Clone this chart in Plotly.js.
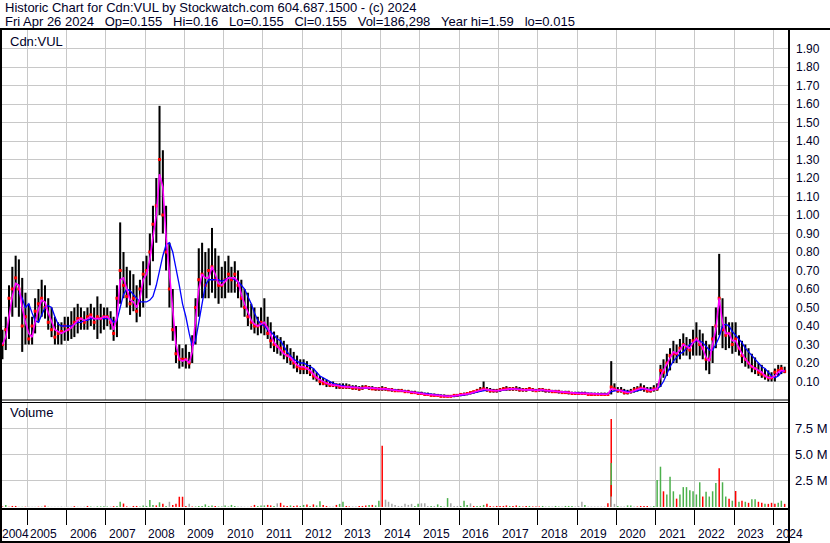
<!DOCTYPE html>
<html><head><meta charset="utf-8">
<script src="https://cdn.plot.ly/plotly-3.0.1.min.js"></script>
<style>body{margin:0;background:#fff}#chart{width:830px;height:543px}</style>
</head><body><div id="chart"></div>
<script>
// Monthly readings, May 2004 .. Apr 2024
const firstYear = 2004, firstMonth = 5;
const high = [
0.38,0.45,0.62,0.72,0.78,0.76,0.66,0.58,
0.52,0.45,0.55,0.60,0.65,0.62,0.55,0.50,0.45,0.42,0.42,0.45,
0.45,0.48,0.50,0.52,0.50,0.48,0.50,0.52,0.50,0.56,0.52,0.50,
0.50,0.48,0.45,0.62,0.96,0.80,0.72,0.70,0.68,0.62,0.65,0.75,
0.78,0.90,1.05,1.20,1.59,1.35,1.05,0.85,0.60,0.40,0.30,0.28,
0.30,0.26,0.35,0.55,0.82,0.85,0.80,0.82,0.93,0.82,0.78,0.72,
0.75,0.78,0.72,0.75,0.70,0.65,0.60,0.58,0.52,0.50,0.45,0.50,
0.55,0.45,0.42,0.37,0.35,0.34,0.32,0.30,0.28,0.26,0.24,0.22,
0.22,0.21,0.19,0.17,0.15,0.13,0.12,0.11,0.10,0.10,0.09,0.09,
0.09,0.09,0.085,0.08,0.08,0.075,0.08,0.08,0.075,0.075,0.07,0.07,
0.075,0.07,0.065,0.065,0.06,0.06,0.06,0.055,0.055,0.05,0.05,0.045,
0.045,0.04,0.04,0.035,0.035,0.03,0.03,0.03,0.025,0.025,0.03,0.03,
0.035,0.04,0.04,0.045,0.05,0.06,0.07,0.10,0.07,0.065,0.06,0.06,
0.065,0.07,0.075,0.07,0.07,0.075,0.07,0.065,0.065,0.07,0.065,0.06,
0.065,0.065,0.06,0.06,0.055,0.055,0.055,0.05,0.05,0.05,0.045,0.045,
0.045,0.045,0.045,0.04,0.04,0.04,0.04,0.04,0.04,0.04,0.21,0.09,
0.07,0.07,0.06,0.055,0.06,0.07,0.075,0.09,0.08,0.07,0.07,0.08,
0.09,0.19,0.22,0.25,0.28,0.32,0.30,0.33,0.36,0.34,0.33,0.38,
0.42,0.38,0.36,0.32,0.30,0.40,0.50,0.79,0.55,0.45,0.42,0.42,
0.42,0.35,0.32,0.30,0.28,0.25,0.23,0.20,0.19,0.17,0.16,0.15,
0.17,0.19,0.19,0.18];
const low = [
0.22,0.27,0.33,0.45,0.50,0.45,0.26,0.30,
0.30,0.30,0.36,0.42,0.45,0.44,0.38,0.34,0.30,0.30,0.30,0.32,
0.32,0.33,0.34,0.36,0.38,0.38,0.38,0.40,0.38,0.33,0.36,0.38,
0.40,0.38,0.32,0.34,0.52,0.55,0.50,0.46,0.48,0.42,0.45,0.50,
0.55,0.62,0.75,0.85,1.00,0.90,0.70,0.50,0.32,0.20,0.17,0.18,
0.17,0.17,0.20,0.30,0.45,0.55,0.55,0.55,0.58,0.55,0.52,0.55,
0.55,0.58,0.58,0.58,0.55,0.50,0.45,0.40,0.38,0.36,0.35,0.36,
0.35,0.33,0.28,0.26,0.25,0.24,0.22,0.20,0.19,0.17,0.15,0.14,
0.14,0.14,0.13,0.11,0.10,0.08,0.08,0.07,0.07,0.07,0.06,0.06,
0.06,0.06,0.06,0.055,0.055,0.05,0.055,0.06,0.055,0.055,0.05,0.05,
0.05,0.05,0.05,0.045,0.045,0.045,0.045,0.04,0.04,0.035,0.035,0.03,
0.03,0.025,0.025,0.02,0.02,0.02,0.015,0.015,0.015,0.015,0.015,0.02,
0.02,0.025,0.025,0.03,0.035,0.04,0.045,0.05,0.045,0.04,0.04,0.04,
0.045,0.05,0.05,0.05,0.05,0.05,0.045,0.045,0.045,0.05,0.045,0.045,
0.045,0.045,0.04,0.04,0.04,0.04,0.035,0.035,0.035,0.03,0.03,0.03,
0.03,0.03,0.03,0.025,0.025,0.025,0.025,0.025,0.025,0.025,0.03,0.05,
0.04,0.04,0.03,0.03,0.035,0.04,0.045,0.05,0.045,0.04,0.04,0.045,
0.05,0.07,0.12,0.13,0.16,0.20,0.20,0.22,0.24,0.24,0.22,0.24,
0.24,0.24,0.22,0.16,0.14,0.20,0.28,0.35,0.28,0.27,0.28,0.25,
0.26,0.24,0.20,0.18,0.17,0.15,0.14,0.13,0.12,0.11,0.10,0.10,
0.10,0.13,0.14,0.145];
const close = [
0.30,0.38,0.55,0.60,0.66,0.60,0.40,0.45,
0.33,0.40,0.48,0.52,0.55,0.50,0.42,0.38,0.34,0.36,0.37,0.40,
0.38,0.40,0.42,0.44,0.44,0.42,0.45,0.46,0.42,0.45,0.44,0.45,
0.45,0.42,0.36,0.55,0.70,0.62,0.56,0.52,0.55,0.48,0.60,0.68,
0.70,0.80,0.95,1.05,1.30,1.00,0.80,0.60,0.38,0.25,0.22,0.22,
0.22,0.20,0.30,0.50,0.65,0.68,0.62,0.70,0.72,0.65,0.62,0.62,
0.65,0.68,0.65,0.68,0.62,0.55,0.50,0.45,0.42,0.40,0.40,0.42,
0.40,0.36,0.32,0.30,0.29,0.28,0.26,0.24,0.22,0.20,0.18,0.17,
0.17,0.17,0.15,0.13,0.12,0.10,0.09,0.09,0.08,0.08,0.08,0.07,
0.07,0.07,0.07,0.065,0.065,0.06,0.065,0.07,0.065,0.06,0.06,0.06,
0.06,0.06,0.055,0.055,0.05,0.05,0.05,0.045,0.045,0.04,0.04,0.035,
0.035,0.03,0.03,0.025,0.025,0.025,0.02,0.02,0.02,0.02,0.025,0.025,
0.03,0.03,0.035,0.04,0.045,0.05,0.055,0.06,0.055,0.05,0.05,0.05,
0.055,0.06,0.06,0.06,0.06,0.06,0.055,0.055,0.055,0.06,0.055,0.05,
0.055,0.055,0.05,0.05,0.045,0.045,0.045,0.04,0.04,0.04,0.035,0.035,
0.035,0.035,0.035,0.03,0.03,0.03,0.03,0.03,0.03,0.03,0.07,0.06,
0.05,0.05,0.04,0.04,0.045,0.055,0.06,0.065,0.06,0.05,0.05,0.06,
0.06,0.16,0.15,0.20,0.24,0.25,0.25,0.28,0.30,0.28,0.27,0.32,
0.33,0.30,0.28,0.22,0.22,0.33,0.40,0.55,0.38,0.35,0.36,0.30,
0.33,0.28,0.24,0.22,0.20,0.18,0.17,0.15,0.14,0.13,0.12,0.12,
0.15,0.16,0.17,0.155];
const maFast = [
0.30,0.34,0.45,0.56,0.63,0.62,0.50,0.42,
0.36,0.34,0.42,0.49,0.54,0.53,0.47,0.42,0.38,0.37,0.36,0.37,
0.38,0.39,0.41,0.43,0.44,0.43,0.44,0.45,0.44,0.44,0.44,0.45,
0.45,0.43,0.38,0.45,0.65,0.66,0.60,0.54,0.53,0.50,0.55,0.65,
0.68,0.76,0.88,1.00,1.22,1.15,0.88,0.68,0.45,0.30,0.22,0.21,
0.22,0.20,0.26,0.42,0.60,0.68,0.66,0.66,0.72,0.68,0.63,0.62,
0.64,0.66,0.66,0.66,0.64,0.57,0.52,0.47,0.43,0.41,0.40,0.41,
0.42,0.39,0.35,0.31,0.29,0.27,0.25,0.24,0.23,0.21,0.19,0.18,
0.18,0.17,0.16,0.14,0.12,0.11,0.10,0.09,0.085,0.08,0.08,0.075,
0.072,0.071,0.07,0.068,0.065,0.063,0.065,0.067,0.065,0.063,0.06,0.06,
0.06,0.06,0.057,0.055,0.052,0.05,0.05,0.047,0.045,0.042,0.04,0.037,
0.036,0.033,0.03,0.028,0.026,0.024,0.022,0.02,0.02,0.02,0.022,0.024,
0.027,0.03,0.033,0.037,0.042,0.048,0.053,0.058,0.056,0.052,0.05,0.05,
0.053,0.057,0.06,0.06,0.06,0.06,0.057,0.055,0.055,0.058,0.055,0.052,
0.055,0.055,0.052,0.05,0.048,0.047,0.046,0.043,0.042,0.04,0.038,0.036,
0.036,0.036,0.035,0.033,0.032,0.031,0.031,0.031,0.031,0.032,0.06,0.058,
0.052,0.05,0.045,0.041,0.043,0.05,0.057,0.063,0.062,0.055,0.052,0.056,
0.06,0.13,0.16,0.19,0.22,0.26,0.25,0.27,0.30,0.29,0.28,0.31,
0.33,0.31,0.28,0.23,0.21,0.30,0.38,0.55,0.42,0.36,0.36,0.32,
0.32,0.28,0.25,0.22,0.20,0.18,0.17,0.16,0.15,0.13,0.12,0.12,
0.13,0.15,0.16,0.155];
const maSlow = [
null,null,null,null,null,0.58,0.55,0.50,
0.52,0.47,0.43,0.42,0.46,0.50,0.51,0.50,0.45,0.41,0.40,0.40,
0.40,0.40,0.41,0.42,0.42,0.43,0.43,0.44,0.44,0.44,0.44,0.44,
0.44,0.44,0.42,0.43,0.50,0.57,0.60,0.59,0.57,0.55,0.53,0.53,
0.53,0.54,0.56,0.62,0.70,0.78,0.84,0.85,0.80,0.72,0.62,0.52,
0.45,0.36,0.29,0.32,0.42,0.54,0.62,0.65,0.65,0.65,0.65,0.64,
0.65,0.66,0.66,0.65,0.64,0.62,0.60,0.56,0.52,0.47,0.43,0.41,
0.40,0.38,0.37,0.35,0.33,0.32,0.29,0.26,0.24,0.22,0.21,0.20,
0.20,0.19,0.18,0.17,0.15,0.13,0.12,0.11,0.10,0.09,0.085,0.08,
0.077,0.074,0.072,0.07,0.068,0.066,0.065,0.066,0.066,0.065,0.063,0.061,
0.06,0.06,0.058,0.056,0.054,0.052,0.05,0.048,0.046,0.044,0.042,0.04,
0.038,0.035,0.033,0.03,0.028,0.026,0.024,0.022,0.021,0.02,0.021,0.022,
0.025,0.027,0.03,0.033,0.037,0.042,0.047,0.052,0.054,0.053,0.051,0.05,
0.05,0.053,0.056,0.058,0.06,0.06,0.058,0.056,0.055,0.056,0.055,0.053,
0.053,0.054,0.053,0.051,0.049,0.048,0.047,0.045,0.043,0.041,0.04,0.038,
0.037,0.036,0.036,0.035,0.034,0.033,0.032,0.032,0.032,0.032,0.045,0.05,
0.052,0.052,0.05,0.046,0.044,0.046,0.05,0.056,0.06,0.058,0.056,0.056,
0.06,0.075,0.10,0.14,0.18,0.21,0.23,0.25,0.26,0.28,0.30,0.31,
0.32,0.32,0.31,0.29,0.27,0.27,0.30,0.34,0.40,0.41,0.40,0.37,
0.35,0.33,0.31,0.28,0.26,0.24,0.22,0.20,0.18,0.17,0.15,0.13,
0.12,0.13,0.15,0.16];
// volume, millions of shares (largest day of each month)
const volume = [
0.05,0.2,0.03,0.1,0.1,0.02,0.02,0.03,
0.02,0.02,0.02,0.03,0.03,0.14,0.03,0.02,0.02,0.02,0.05,0.02,
0.03,0.03,0.08,0.03,0.03,0.03,0.1,0.05,0.03,0.06,0.06,0.06,
0.05,0.04,0.08,0.1,0.5,0.33,0.06,0.03,0.1,0.1,0.05,0.15,
0.1,0.67,0.2,0.15,0.45,0.3,0.1,0.5,0.2,0.3,0.98,0.98,
0.1,0.3,0.05,0.05,0.1,0.1,0.25,0.1,0.15,0.1,0.05,0.05,
0.15,0.05,0.2,0.1,0.05,0.05,0.03,0.03,0.05,0.2,0.1,0.15,
0.15,0.2,0.15,0.1,0.35,0.4,0.15,0.1,0.15,0.1,0.15,0.1,
0.2,0.25,0.1,0.25,0.15,0.55,0.2,0.1,0.05,0.05,0.2,0.3,
0.5,0.1,0.05,0.05,0.05,0.1,0.1,0.15,0.2,0.2,0.15,0.6,
5.85,0.7,0.5,0.3,0.2,0.1,0.1,0.3,0.2,0.3,0.1,0.3,
0.35,0.35,0.1,0.1,0.1,0.25,0.1,0.05,0.85,0.35,0.1,0.1,
0.1,0.6,0.2,0.35,0.1,0.1,0.1,0.2,0.3,0.1,0.05,0.1,
0.1,0.1,0.15,0.1,0.1,0.15,0.1,0.05,0.1,0.1,0.05,0.05,
0.05,0.1,0.05,0.05,0.05,0.1,0.05,0.05,0.1,0.1,0.1,0.05,
0.1,0.5,0.2,0.05,0.05,0.05,0.05,0.05,0.05,0.35,8.4,0.3,
0.1,0.05,0.05,0.15,0.15,0.05,0.05,0.1,0.1,0.1,0.05,0.1,
2.58,3.85,1.5,1.2,2.9,1.5,0.8,1.2,1.9,1.9,1.6,1.5,
1.2,2.36,1.0,1.45,1.0,1.5,2.3,3.7,2.36,1.0,0.8,0.6,
1.53,0.5,0.6,0.5,0.4,0.75,0.75,0.5,0.4,0.3,0.3,0.4,
0.3,0.4,0.6,0.3];
// g = up day, r = down day, n = unchanged
const volumeDir = [
'r','g','r','r','r','n','g','r',
'n','n','n','r','g','r','g','n','n','n','n','n',
'n','n','r','n','n','n','r','g','n','g','g','g',
'g','n','r','g','g','r','r','n','r','r','g','g',
'g','g','g','r','g','r','g','n','r','r','r','r',
'r','n','r','g','g','g','g','g','g','r','g','g',
'g','g','g','g','n','n','n','n','r','r','g','g',
'g','r','r','g','n','r','r','r','g','r','r','g',
'g','r','g','r','g','g','r','r','n','n','r','g',
'g','r','r','n','n','r','r','r','g','r','g','g',
'r','n','n','n','n','n','n','n','n','n','g','g',
'n','n','n','g','n','g','g','n','g','n','n','n',
'g','g','g','n','r','g','g','g','r','r','r','r',
'r','r','r','g','r','r','g','r','r','g','r','r',
'r','g','n','g','n','g','g','n','g','g','g','n',
'n','n','g','n','n','n','n','n','n','r','r','n',
'g','n','n','g','g','n','r','r','r','r','n','g',
'g','g','r','g','g','g','r','g','g','g','g','g',
'g','g','r','g','g','g','g','r','g','g','r','g',
'r','g','r','g','r','g','g','r','r','g','r','r',
'r','g','g','r'];
// other large days drawn in the same column (Nov 2019)
const extraVolDate = ['2019-11-15','2019-11-15','2019-11-15'];
const extraVol = [4.2, 2.1, 1.0];
const extraVolDir = ['g','r','n'];
const yearStarts = ['2005','2006','2007','2008','2009','2010','2011','2012','2013','2014','2015','2016','2017','2018','2019','2020','2021','2022','2023','2024'];
const yearLabels = ['2004','2005','2006','2007','2008','2009','2010','2011','2012','2013','2014','2015','2016','2017','2018','2019','2020','2021','2022','2023','2024'];
const priceTicks = [0.1,0.2,0.3,0.4,0.5,0.6,0.7,0.8,0.9,1.0,1.1,1.2,1.3,1.4,1.5,1.6,1.7,1.8,1.9];
const volTicks = [2.5,5.0,7.5];
const volTickText = ['2.5 M','5.0 M','7.5 M'];
const headerLine1 = 'Historic Chart for Cdn:VUL by Stockwatch.com 604.687.1500 - (c) 2024';
const headerLine2 = 'Fri Apr 26 2024&nbsp;&nbsp; Op=0.155&nbsp;&nbsp; Hi=0.16&nbsp;&nbsp; Lo=0.155&nbsp;&nbsp; Cl=0.155&nbsp;&nbsp; Vol=186,298&nbsp;&nbsp; Year hi=1.59&nbsp;&nbsp; lo=0.015';

// ---------- build ----------
const W = 830, H = 543;
const px = v => v / W, py = v => 1 - v / H;
const dates = high.map((_, i) => {
  const m0 = firstMonth - 1 + i;
  const y = firstYear + Math.floor(m0 / 12), m = m0 % 12 + 1;
  return y + '-' + String(m).padStart(2, '0') + '-15';
});
const DAY = 86400000;
const colMap = {g: '#4cb04c', r: '#ff0000', n: '#a8a8a8'};
const FONT = 'Liberation Sans, Arial, sans-serif';
const TXT = '#000028';

const traces = [
  {type: 'bar', x: dates, base: low, y: high.map((h, i) => h - low[i]), width: 19 * DAY,
   marker: {color: '#000', line: {width: 0}}, xaxis: 'x', yaxis: 'y', hoverinfo: 'skip'},
  {type: 'scatter', mode: 'markers', x: dates, y: close, xaxis: 'x', yaxis: 'y',
   marker: {symbol: 'square', size: 3, color: '#ff0000', line: {width: 0}}, hoverinfo: 'skip'},
  {type: 'scatter', mode: 'lines', x: dates, y: maSlow, xaxis: 'x', yaxis: 'y',
   line: {color: '#0000ff', width: 1.3}, connectgaps: false, hoverinfo: 'skip'},
  {type: 'scatter', mode: 'lines', x: dates, y: maFast, xaxis: 'x', yaxis: 'y',
   line: {color: '#ff00ff', width: 1.6}, hoverinfo: 'skip'},
  {type: 'bar', x: dates, y: volume, width: 14 * DAY, xaxis: 'x2', yaxis: 'y2',
   marker: {color: volumeDir.map(d => colMap[d]), line: {width: 0}}, hoverinfo: 'skip'},
  {type: 'bar', x: extraVolDate, y: extraVol, width: 14 * DAY, xaxis: 'x2', yaxis: 'y2',
   marker: {color: extraVolDir.map(d => colMap[d]), line: {width: 0}}, hoverinfo: 'skip'}
];

const xRange = ['2004-05-11', '2024-05-16'];
const dom = [px(2), px(788)];
const grid = '#c8c8c8';
const layout = {
  width: W, height: H, margin: {l: 0, r: 0, t: 0, b: 0, pad: 0},
  paper_bgcolor: '#fff', plot_bgcolor: '#fff', showlegend: false, barmode: 'overlay',
  font: {family: FONT, size: 12, color: TXT},
  xaxis: {domain: dom, anchor: 'y', type: 'date', range: xRange, tickvals: yearStarts,
    showticklabels: false, ticks: '', showgrid: true, gridcolor: grid, gridwidth: 1, zeroline: false, showline: false, fixedrange: true},
  yaxis: {domain: [py(400), py(30)], range: [0, 2.0], side: 'right', tickvals: priceTicks, tickformat: '.2f',
    showgrid: true, gridcolor: grid, gridwidth: 1, zeroline: false, showline: false, ticks: '',
    tickfont: {family: FONT, size: 12, color: TXT}, ticklabelstandoff: 7, fixedrange: true},
  xaxis2: {domain: dom, anchor: 'y2', type: 'date', range: xRange, matches: 'x', tickvals: yearStarts,
    showticklabels: false, ticks: 'outside', ticklen: 17, tickwidth: 1, tickcolor: '#000',
    showgrid: true, gridcolor: grid, gridwidth: 1, zeroline: false, showline: false, fixedrange: true},
  yaxis2: {domain: [py(507), py(402)], range: [0, 10.03], side: 'right', tickvals: volTicks, ticktext: volTickText,
    showgrid: true, gridcolor: grid, gridwidth: 1, zeroline: false, showline: false, ticks: '',
    tickfont: {family: FONT, size: 13, color: TXT}, ticklabelstandoff: 6, fixedrange: true},
  shapes: [
    {type: 'line', xref: 'paper', yref: 'paper', x0: 0, x1: 1, y0: py(29), y1: py(29), line: {color: '#000', width: 2}},
    {type: 'line', xref: 'paper', yref: 'paper', x0: px(1), x1: px(1), y0: py(29), y1: py(543), line: {color: '#000', width: 2}},
    {type: 'line', xref: 'paper', yref: 'paper', x0: px(789), x1: px(789), y0: py(29), y1: py(543), line: {color: '#000', width: 2}},
    {type: 'line', xref: 'paper', yref: 'paper', x0: 0, x1: px(789), y0: py(400), y1: py(400), line: {color: '#000', width: 1}},
    {type: 'line', xref: 'paper', yref: 'paper', x0: 0, x1: px(789), y0: py(402.5), y1: py(402.5), line: {color: '#000', width: 1}},
    {type: 'line', xref: 'paper', yref: 'paper', x0: 0, x1: px(789), y0: py(509), y1: py(509), line: {color: '#000', width: 2}},
    {type: 'line', xref: 'paper', yref: 'paper', x0: 0, x1: px(789), y0: py(542), y1: py(542), line: {color: '#000', width: 2}}
  ],
  annotations: []
};
const ann = layout.annotations;
ann.push({xref: 'paper', yref: 'paper', x: px(3), y: py(8), xanchor: 'left', yanchor: 'middle', text: headerLine1, showarrow: false, font: {size: 13, color: TXT}});
ann.push({xref: 'paper', yref: 'paper', x: px(3), y: py(21), xanchor: 'left', yanchor: 'middle', text: headerLine2, showarrow: false, font: {size: 13, color: TXT}});
ann.push({xref: 'paper', yref: 'paper', x: px(8), y: py(41), xanchor: 'left', yanchor: 'middle', text: 'Cdn:VUL', showarrow: false, font: {size: 13, color: TXT}});
ann.push({xref: 'paper', yref: 'paper', x: px(8), y: py(413), xanchor: 'left', yanchor: 'middle', text: 'Volume', showarrow: false, font: {size: 13, color: TXT}});
// year labels
ann.push({xref: 'paper', yref: 'paper', x: 0, y: py(534), xanchor: 'left', yanchor: 'middle', text: yearLabels[0], showarrow: false, font: {size: 12, color: TXT}});
yearStarts.forEach((ys, i) => {
  ann.push({xref: 'x2', yref: 'paper', x: ys, y: py(534), xanchor: 'left', yanchor: 'middle', xshift: 1, text: yearLabels[i + 1], showarrow: false, font: {size: 12, color: TXT}});
});

Plotly.newPlot('chart', traces, layout, {staticPlot: true, displayModeBar: false});
</script>
</body></html>
